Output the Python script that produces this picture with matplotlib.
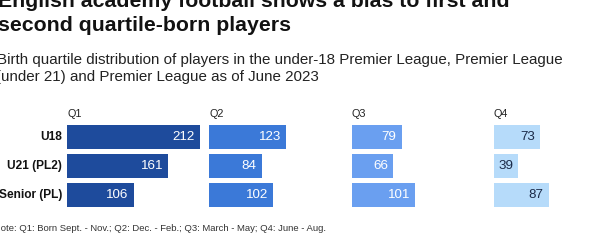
import matplotlib
matplotlib.use("Agg")
import matplotlib.pyplot as plt

# data
quartiles = ["Q1", "Q2", "Q3", "Q4"]
groups = ["U18", "U21 (PL2)", "Senior (PL)"]
q1 = [212, 161, 106]
q2 = [123, 84, 102]
q3 = [79, 66, 101]
q4 = [73, 39, 87]
values = [q1, q2, q3, q4]

colors = ["#1e4b9c", "#3b79d8", "#6a9ff0", "#b6dbfa"]
text_colors = ["white", "white", "white", "#1b2a48"]

font = "Liberation Sans"

W, H = 594, 241
fig = plt.figure(figsize=(W / 100, H / 100), dpi=100)
fig.patch.set_facecolor("white")

def fx(px):
    return px / W

def fy(py):
    return 1 - py / H

# titles (cut off at the top and left like the reference)
fig.text(fx(-2), fy(7), "English academy football shows a bias to first and",
         family=font, weight="bold", size=15.3, va="baseline", ha="left", color="#121212")
fig.text(fx(-2), fy(31), "second quartile-born players",
         family=font, weight="bold", size=15.3, va="baseline", ha="left", color="#121212")
fig.text(fx(-3), fy(64), "Birth quartile distribution of players in the under-18 Premier League, Premier League",
         family=font, size=10.9, va="baseline", ha="left", color="#222222")
fig.text(fx(-4), fy(81), "(under 21) and Premier League as of June 2023",
         family=font, size=10.9, va="baseline", ha="left", color="#222222")
fig.text(fx(-6), fy(231), "Note: Q1: Born Sept. - Nov.; Q2: Dec. - Feb.; Q3: March - May; Q4: June - Aug.",
         family=font, size=6.8, va="baseline", ha="left", color="#333333")

# panels
starts = [67, 209, 352, 494]
scale = 133 / 212  # px per player
panel_w = 136
top, bottom = 122.5, 209.5

for k in range(4):
    ax = fig.add_axes([fx(starts[k]), fy(bottom), fx(panel_w), (bottom - top) / H])
    ax.set_xlim(0, panel_w / scale)
    ax.set_ylim(2.5, -0.5)
    ypos = list(range(len(groups)))
    ax.barh(ypos, values[k], height=0.86, color=colors[k])
    for i, v in enumerate(values[k]):
        ax.text(v - 5 / scale, i, str(v), ha="right", va="center",
                family=font, size=9.6, color=text_colors[k])
    ax.text(0, -0.62, quartiles[k], ha="left", va="bottom",
            family=font, size=7.8, color="#222222")
    for s in ax.spines.values():
        s.set_visible(False)
    ax.set_xticks([])
    ax.set_yticks([])
    if k == 0:
        for i, g in enumerate(groups):
            ax.text(-5 / scale, i, g, ha="right", va="center",
                    family=font, weight="bold", size=8.6, color="#121212")

fig.savefig("out.png", dpi=100)
